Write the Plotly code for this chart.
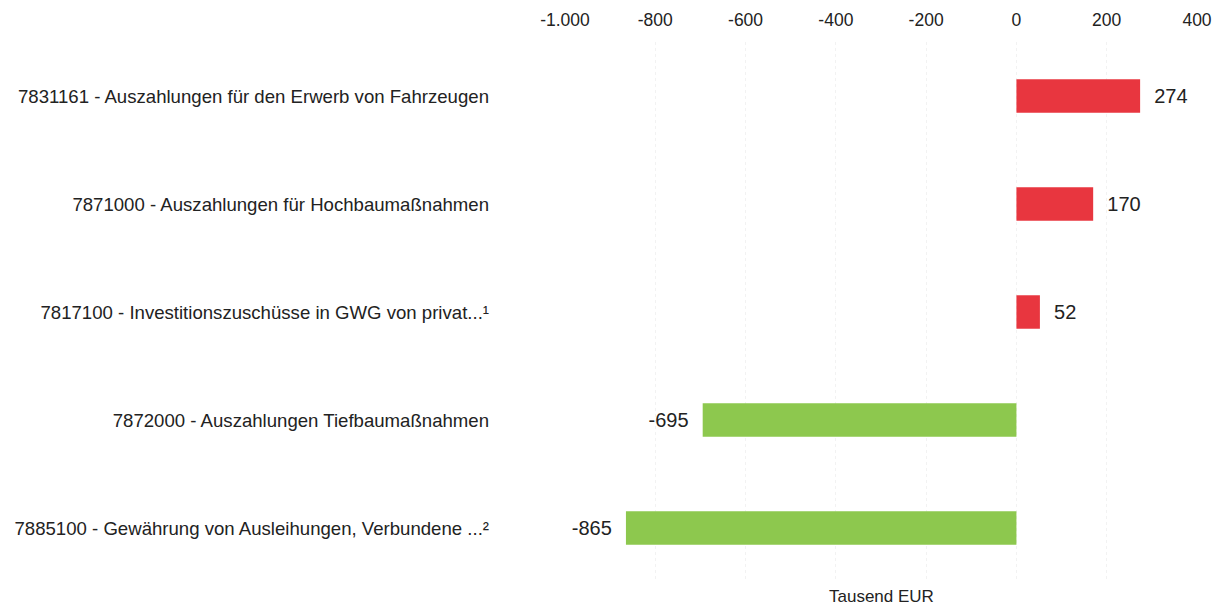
import plotly.graph_objects as go

categories = [
    "7831161 - Auszahlungen für den Erwerb von Fahrzeugen",
    "7871000 - Auszahlungen für Hochbaumaßnahmen",
    "7817100 - Investitionszuschüsse in GWG von privat...¹",
    "7872000 - Auszahlungen Tiefbaumaßnahmen",
    "7885100 - Gewährung von Ausleihungen, Verbundene ...²",
]
values = [274, 170, 52, -695, -865]
tick_vals = [-1000, -800, -600, -400, -200, 0, 200, 400]
tick_text = ["-1.000", "-800", "-600", "-400", "-200", "0", "200", "400"]
axis_title = "Tausend EUR"

RED = "#e8363f"
GREEN = "#8dc84e"
FONT = "Liberation Sans, Arial, sans-serif"

pos_cat = [c for c, v in zip(categories, values) if v >= 0]
pos_val = [v for v in values if v >= 0]
neg_cat = [c for c, v in zip(categories, values) if v < 0]
neg_val = [v for v in values if v < 0]

fig = go.Figure()
fig.add_trace(go.Bar(
    y=pos_cat, x=pos_val, orientation="h",
    marker=dict(color=RED, line=dict(width=0)),
    text=[f"  {v}" for v in pos_val], textposition="outside",
    textfont=dict(size=20, color="#222222", family=FONT),
    cliponaxis=False, width=0.31, hoverinfo="x+y",
))
fig.add_trace(go.Bar(
    y=neg_cat, x=neg_val, orientation="h",
    marker=dict(color=GREEN, line=dict(width=0)),
    text=[f"{v}  " for v in neg_val], textposition="outside",
    textfont=dict(size=20, color="#222222", family=FONT),
    cliponaxis=False, width=0.31, hoverinfo="x+y",
))

fig.update_layout(
    width=1214, height=598,
    margin=dict(l=557, r=25, t=34, b=24, autoexpand=False),
    paper_bgcolor="white", plot_bgcolor="white",
    showlegend=False, barmode="overlay",
    font=dict(family=FONT, size=18, color="#222222"),
    xaxis=dict(
        side="top", range=[-1000, 400], tickvals=tick_vals, ticktext=tick_text,
        showgrid=True, gridcolor="#f2f2f2", griddash="dot", gridwidth=1,
        zeroline=False, showline=False, ticks="", automargin=False,
        ticklabelstandoff=12,
        tickfont=dict(size=17.5, color="#222222"),
    ),
    yaxis=dict(
        categoryorder="array", categoryarray=categories, autorange="reversed",
        showgrid=False, zeroline=False, showline=False, ticks="", automargin=False,
        ticklabelstandoff=75, tickfont=dict(size=18.6, color="#222222"),
    ),
    annotations=[dict(
        text=axis_title, xref="paper", yref="paper", x=0.5, y=0,
        yshift=-14, showarrow=False, xanchor="center", yanchor="middle",
        font=dict(size=17, color="#222222"),
    )],
)

fig.write_html("out.html")
